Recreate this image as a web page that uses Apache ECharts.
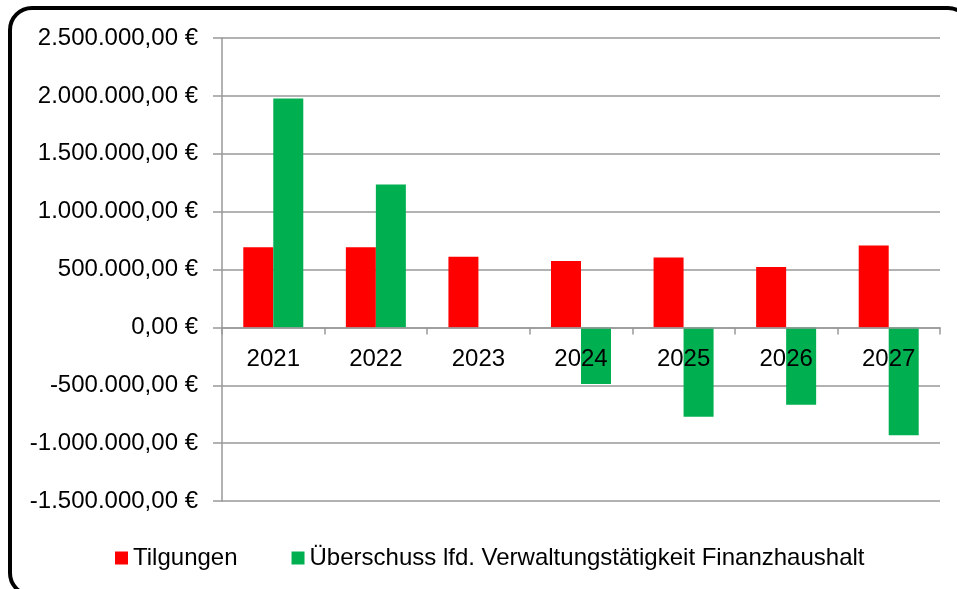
<!DOCTYPE html>
<html>
<head>
<meta charset="utf-8">
<script src="https://cdn.jsdelivr.net/npm/echarts@6/dist/echarts.min.js"></script>
<style>
  html, body { margin: 0; padding: 0; background: #fff; }
  #chart { width: 957px; height: 589px; }
</style>
</head>
<body>
<div id="chart"></div>
<script>
// Daten
const years = ['2021', '2022', '2023', '2024', '2025', '2026', '2027'];
const tilgungen = [692000, 692000, 611000, 574000, 603000, 522000, 707000];
const ueberschuss = [1978000, 1234000, 0, -490000, -773000, -669000, -931000];
const seriesNames = ['Tilgungen', 'Überschuss lfd. Verwaltungstätigkeit Finanzhaushalt'];
const yMin = -1500000, yMax = 2500000, yStep = 500000;

function euro(v) {
  const neg = v < 0;
  const s = Math.abs(Math.round(v)).toString().replace(/\B(?=(\d{3})+(?!\d))/g, '.');
  return (neg ? '-' : '') + s + ',00 €';
}

const font = '"Liberation Sans", Arial, sans-serif';
const W = 957, H = 589;
const grid = { left: 222, right: 17, top: 38, bottom: 88 };
// Kategorie-Beschriftung sitzt an der Nulllinie (wie in Excel)
const plotH = H - grid.top - grid.bottom;
const zeroOffset = -plotH * (0 - yMin) / (yMax - yMin);

const chart = echarts.init(document.getElementById('chart'));
chart.setOption({
  backgroundColor: '#fff',
  animation: false,
  textStyle: { fontFamily: font },
  graphic: [{
    type: 'rect',
    shape: { x: 10, y: 8, width: 960, height: 587, r: 22 },
    style: { fill: 'none', stroke: '#000', lineWidth: 4 },
    z: 100
  }],
  grid: grid,
  legend: {
    left: 110, top: 541,
    itemWidth: 13, itemHeight: 13, itemGap: 54,
    icon: 'rect',
    textStyle: { fontSize: 24, color: '#000', fontFamily: font },
    data: seriesNames
  },
  xAxis: {
    type: 'category',
    data: years,
    z: 10,
    offset: zeroOffset,
    axisLine: { onZero: false, lineStyle: { color: '#999', width: 1.5 } },
    axisTick: { show: true, length: 7, lineStyle: { color: '#999', width: 1.5 } },
    axisLabel: { margin: 20, fontSize: 24, color: '#000', fontFamily: font }
  },
  yAxis: {
    type: 'value',
    min: yMin, max: yMax, interval: yStep,
    axisLine: { show: true, lineStyle: { color: '#999', width: 1.5 } },
    axisTick: { show: true, length: 9, lineStyle: { color: '#999', width: 1.5 } },
    splitLine: { lineStyle: { color: '#999', width: 1.5 } },
    axisLabel: { margin: 24, fontSize: 24, color: '#000', fontFamily: font, formatter: euro }
  },
  series: [
    { name: seriesNames[0], type: 'bar', data: tilgungen, barWidth: 30, barGap: '0%',
      itemStyle: { color: '#ff0000' } },
    { name: seriesNames[1], type: 'bar', data: ueberschuss, barWidth: 30, barGap: '0%',
      itemStyle: { color: '#00b050' } }
  ]
});
</script>
</body>
</html>
